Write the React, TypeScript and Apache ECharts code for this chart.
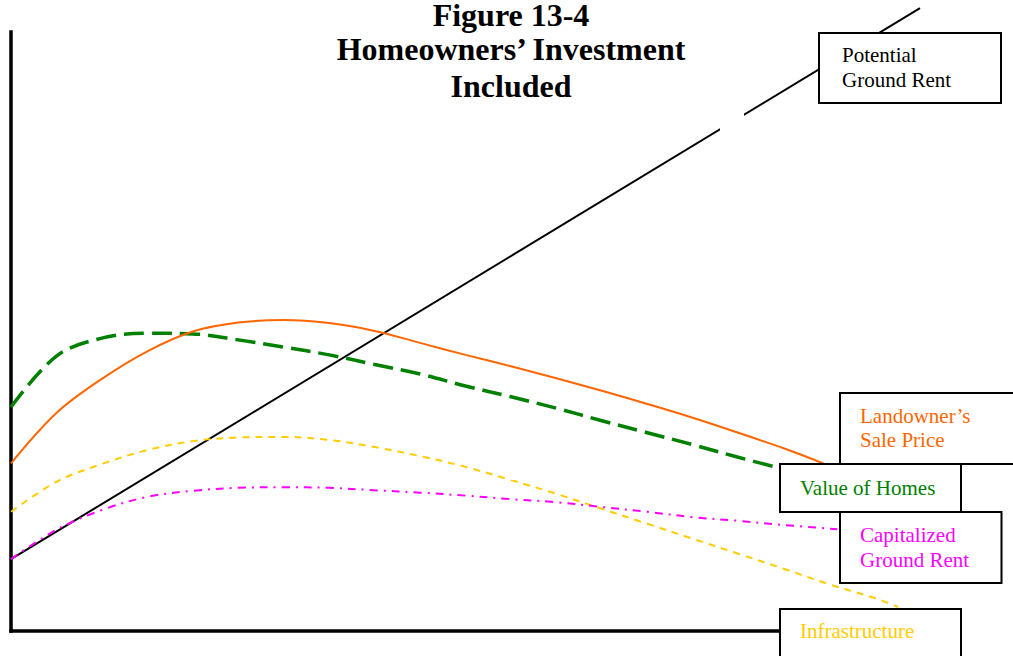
import React, { useEffect, useRef } from "react";
import * as echarts from "echarts";

// Data in abstract units: x 0..100 along the horizontal axis, y 0..100 up the vertical axis
const potentialGroundRent: [number, number][] = [
  [0, 12.0],
  [100, 104.0],
];

const valueOfHomes: [number, number][] = [
  [0, 37.4], [5, 45.9], [10, 48.9], [15, 49.7], [20, 49.6],
  [25, 48.6], [30, 47.4], [35, 46.1], [40, 44.5], [45, 42.9], [50, 40.9], [55, 39.1],
  [60, 37.2], [65, 35.1], [70, 33.1], [75, 31.1], [80, 29.0], [84.6, 27.2],
];

const landownersSalePrice: [number, number][] = [
  [0, 28.0], [5, 36.4], [10, 42.1], [15, 46.7], [20, 50.0], [25, 51.5],
  [30, 51.9], [35, 51.4], [40, 50.1], [45, 48.1], [50, 46.1], [55, 44.2], [60, 42.2],
  [65, 40.1], [70, 37.9], [75, 35.6], [80, 33.1], [85, 30.5], [89.5, 27.9],
];

const infrastructure: [number, number][] = [
  [0, 19.9], [5, 24.9], [10, 27.9], [15, 30.2], [20, 31.7], [25, 32.3], [30, 32.4],
  [35, 31.9], [40, 30.7], [45, 29.2], [50, 27.4], [55, 25.2], [60, 22.9], [65, 20.4],
  [70, 17.9], [75, 15.4], [80, 12.9], [85, 10.4], [90, 7.8], [95, 5.5], [97.6, 4.0],
];

const capitalizedGroundRent: [number, number][] = [
  [0, 12.0], [5, 16.9], [10, 20.2], [15, 22.4], [20, 23.4], [25, 23.9],
  [30, 24.0], [35, 23.9], [40, 23.5], [45, 23.1], [50, 22.6], [55, 22.0], [60, 21.5],
  [65, 20.7], [70, 19.9], [75, 19.0], [80, 18.4], [85, 17.7], [90.9, 17.0],
];

const titleLines = ["Figure 13-4", "Homeowners’ Investment", "Included"];

const SERIF = '"Liberation Serif", "Times New Roman", serif';

function txt(
  text: string,
  x: number,
  y: number,
  fill: string,
  size = 21,
  bold = false,
  center = false,
  vAlign = "middle",
  lineHeight?: number
) {
  const font = `${bold ? "bold " : ""}${size}px ${SERIF}`;
  return {
    type: "text",
    x,
    y,
    z: 110,
    style: {
      text,
      font,
      fill,
      lineHeight: lineHeight ?? size,
      align: center ? "center" : "left",
      textAlign: center ? "center" : "left",
      verticalAlign: vAlign,
      textVerticalAlign: vAlign,
    },
  };
}

function box(x: number, y: number, w: number, h: number) {
  return {
    type: "rect",
    z: 105,
    shape: { x, y, width: w, height: h },
    style: { fill: "#ffffff", stroke: "#000000", lineWidth: 2 },
  };
}

export default function App() {
  const ref = useRef<HTMLDivElement>(null);

  useEffect(() => {
    if (!ref.current) return;
    const chart = echarts.init(ref.current, undefined, { renderer: "svg" });
    const axisCommon = {
      type: "value" as const,
      min: 0,
      max: 100,
      axisLine: { show: true, onZero: false, lineStyle: { color: "#000", width: 3.5, cap: "square" } },
      axisTick: { show: false },
      axisLabel: { show: false },
      splitLine: { show: false },
    };
    const curve = { type: "line" as const, symbol: "none", smooth: 0.35, clip: false };
    chart.setOption({
      animation: false,
      backgroundColor: "#ffffff",
      grid: { left: 11, top: 32, width: 909, height: 599, outerBoundsMode: "none", containLabel: false },
      xAxis: { ...axisCommon },
      yAxis: { ...axisCommon },
      series: [
        {
          name: "Potential Ground Rent",
          type: "line",
          data: potentialGroundRent,
          symbol: "none",
          clip: false,
          lineStyle: { color: "#000000", width: 2 },
        },
        {
          ...curve,
          name: "Value of Homes",
          data: valueOfHomes,
          lineStyle: { color: "#008000", width: 3.5, type: [20, 8] },
        },
        {
          ...curve,
          name: "Landowner’s Sale Price",
          data: landownersSalePrice,
          lineStyle: { color: "#FF6600", width: 2 },
        },
        {
          ...curve,
          name: "Infrastructure",
          data: infrastructure,
          lineStyle: { color: "#FFCC00", width: 2, type: [7, 6] },
        },
        {
          ...curve,
          name: "Capitalized Ground Rent",
          data: capitalizedGroundRent,
          lineStyle: { color: "#FF00FF", width: 2, type: [8, 6, 2, 6] },
        },
      ],
      graphic: [
        // white gap in the potential ground rent line
        { type: "rect", z: 100, shape: { x: 720, y: 106, width: 24, height: 26 }, style: { fill: "#ffffff" } },
        txt(titleLines[0], 511, 0, "#000000", 32, true, true, "top", 30),
        txt(titleLines[1], 511, 49, "#000000", 32, true, true, "middle", 30),
        txt(titleLines[2], 511, 86, "#000000", 32, true, true, "middle", 30),
        box(819, 33, 182, 70),
        txt("Potential", 842, 54.5, "#000000"),
        txt("Ground Rent", 842, 79.5, "#000000"),
        box(840, 393, 200, 71),
        txt("Landowner’s", 860, 415.5, "#FF6600"),
        txt("Sale Price", 860, 439.5, "#FF6600"),
        box(840, 512, 161.5, 71),
        txt("Capitalized", 860, 534.5, "#FF00FF"),
        txt("Ground Rent", 860, 559.5, "#FF00FF"),
        box(780, 464, 181, 48),
        txt("Value of Homes", 800, 488, "#008000"),
        box(780, 609, 181, 60),
        txt("Infrastructure", 800, 630.5, "#FFCC00"),
      ],
    });
    return () => chart.dispose();
  }, []);

  return (
    <div
      ref={ref}
      style={{ position: "fixed", left: 0, top: 0, width: 1013, height: 656, background: "#fff" }}
    />
  );
}
